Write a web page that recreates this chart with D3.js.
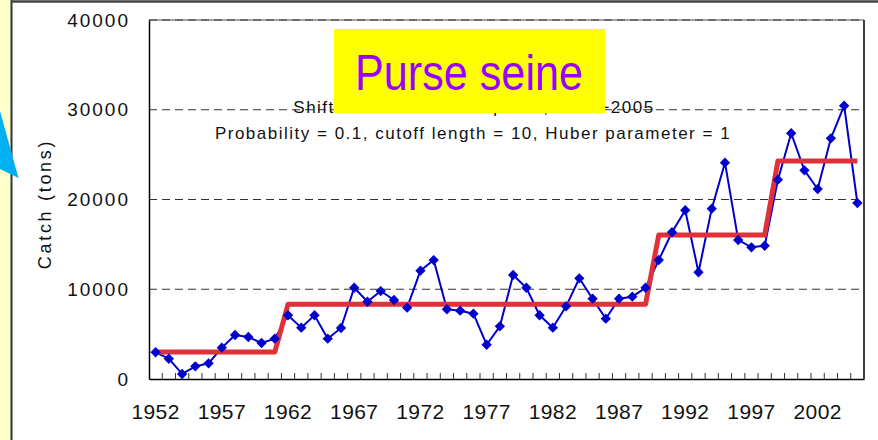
<!DOCTYPE html>
<html>
<head>
<meta charset="utf-8">
<script src="https://cdn.jsdelivr.net/npm/d3@7/dist/d3.min.js"></script>
<style>
  body { margin: 0; background: white; }
  text { font-family: "Liberation Sans", Arial, sans-serif; }
</style>
</head>
<body>
<div id="container"></div>
<script>
let w = 878;
let h = 440;

// DATA
let years = [1952, 1953, 1954, 1955, 1956, 1957, 1958, 1959, 1960, 1961,
  1962, 1963, 1964, 1965, 1966, 1967, 1968, 1969, 1970, 1971,
  1972, 1973, 1974, 1975, 1976, 1977, 1978, 1979, 1980, 1981,
  1982, 1983, 1984, 1985, 1986, 1987, 1988, 1989, 1990, 1991,
  1992, 1993, 1994, 1995, 1996, 1997, 1998, 1999, 2000, 2001,
  2002, 2003, 2004, 2005];
let catchTons = [2980, 2260, 560, 1410, 1750, 3490, 4900, 4680, 4010, 4490,
  7100, 5720, 7100, 4490, 5680, 10170, 8610, 9800, 8800, 7950,
  12070, 13250, 7770, 7610, 7280, 3820, 5870, 11590, 10170, 7100,
  5720, 8100, 11220, 8950, 6720, 8950, 9170, 10170, 13260, 16350,
  18800, 11890, 18980, 24100, 15490, 14670, 14850, 22210, 27380, 23250,
  21170, 26820, 30450, 19610];
// regimes of the mean (start year, end year, mean)
let regimeStart = [1952, 1962, 1990, 1999];
let regimeEnd = [1961, 1989, 1998, 2005];
let regimeMean = [3000, 8320, 16040, 24290];

let yTicks = [0, 10000, 20000, 30000, 40000];
let xLabels = [1952, 1957, 1962, 1967, 1972, 1977, 1982, 1987, 1992, 1997, 2002];

// SVG
let viz = d3.select("#container").append("svg")
    .attr("width", w)
    .attr("height", h)
    .style("display", "block")
    .style("background-color", "white");

// left yellow strip + frame
viz.append("rect").attr("x", 0).attr("y", 0).attr("width", 11).attr("height", h).attr("fill", "#ffffcc");
viz.append("line").attr("x1", 11.5).attr("x2", 11.5).attr("y1", 0).attr("y2", h)
    .attr("stroke", "#333").attr("stroke-width", 2);
viz.append("line").attr("x1", 11).attr("x2", w).attr("y1", 1.5).attr("y2", 1.5)
    .attr("stroke", "#444").attr("stroke-width", 2.5);

// SCALES
let plotLeft = 149, plotRight = 864, plotTop = 20, plotBottom = 379;
let xScale = d3.scaleBand().domain(years).range([plotLeft, plotRight]);
let yScale = d3.scaleLinear().domain([0, 40000]).range([plotBottom, plotTop]);
let cx = (yr) => xScale(yr) + xScale.bandwidth() / 2;

// plot border (top light) and right
viz.append("line").attr("x1", plotLeft).attr("x2", plotRight).attr("y1", plotTop).attr("y2", plotTop)
    .attr("stroke", "#888").attr("stroke-width", 1.5);
viz.append("line").attr("x1", plotRight).attr("x2", plotRight).attr("y1", plotTop).attr("y2", plotBottom)
    .attr("stroke", "black").attr("stroke-width", 1.5);

// GRIDLINES
viz.selectAll(".grid").data(yTicks.filter(d => d > 0)).enter()
  .append("line")
    .attr("class", "grid")
    .attr("x1", plotLeft).attr("x2", plotRight)
    .attr("y1", d => yScale(d)).attr("y2", d => yScale(d))
    .attr("stroke", "#333")
    .attr("stroke-width", 1.2)
    .attr("stroke-dasharray", "8,5");

// AXES
let yAxis = d3.axisLeft(yScale).tickValues(yTicks).tickFormat(d3.format("d"))
    .tickSize(0).tickPadding(21);
let yG = viz.append("g").attr("transform", `translate(${plotLeft},0)`).call(yAxis);
yG.select(".domain").attr("stroke", "black").attr("stroke-width", 1.5);
yG.selectAll("text").attr("font-size", 19).attr("fill", "#111")
    .attr("letter-spacing", 2)
    .attr("dx", 2)
    .style("font-family", "'Liberation Sans', Arial, sans-serif");

let xAxis = d3.axisBottom(xScale).tickValues(xLabels).tickSize(0).tickPadding(25);
let xG = viz.append("g").attr("transform", `translate(0,${plotBottom})`).call(xAxis);
xG.select(".domain").attr("stroke", "black").attr("stroke-width", 1.5);
xG.selectAll("text").attr("font-size", 21).attr("fill", "#111")
    .attr("letter-spacing", 0.4)
    .style("font-family", "'Liberation Sans', Arial, sans-serif");

// category boundary ticks (inside)
viz.selectAll(".xtick").data(years.slice(1)).enter()
  .append("line")
    .attr("class", "xtick")
    .attr("x1", d => xScale(d)).attr("x2", d => xScale(d))
    .attr("y1", plotBottom).attr("y2", plotBottom - 6)
    .attr("stroke", "#333").attr("stroke-width", 1);

// y axis title
viz.append("text")
    .attr("transform", "translate(51,204) rotate(-90)")
    .attr("text-anchor", "middle")
    .attr("font-size", 18)
    .attr("letter-spacing", 2.7)
    .attr("fill", "#111")
    .text("Catch (tons)");

// subtitle lines
viz.append("text")
    .attr("x", 474).attr("y", 113)
    .attr("text-anchor", "middle")
    .attr("font-size", 17)
    .attr("letter-spacing", 1.5)
    .attr("fill", "#111")
    .text("Shifts in the mean for purse, 1952\u22122005");
viz.append("text")
    .attr("x", 473).attr("y", 139)
    .attr("text-anchor", "middle")
    .attr("font-size", 17)
    .attr("letter-spacing", 1.5)
    .attr("fill", "#111")
    .text("Probability = 0.1, cutoff length = 10, Huber parameter = 1");

// CATCH LINE
let lineMaker = d3.line()
    .x((d, i) => cx(years[i]))
    .y(d => yScale(d));
viz.append("path")
    .datum(catchTons)
    .attr("d", lineMaker)
    .attr("fill", "none")
    .attr("stroke", "#0000cc")
    .attr("stroke-width", 2);

// REGIME STEP LINE
let stepPoints = [];
regimeMean.forEach((m, i) => {
  stepPoints.push([cx(regimeStart[i]), yScale(m)]);
  stepPoints.push([cx(regimeEnd[i]), yScale(m)]);
});
viz.append("path")
    .datum(stepPoints)
    .attr("d", d3.line())
    .attr("fill", "none")
    .attr("stroke", "#e0303a")
    .attr("stroke-width", 5)
    .attr("stroke-linejoin", "round");

// MARKERS
let diamond = d3.symbol().type(d3.symbolDiamond2).size(68);
viz.selectAll(".pt").data(catchTons).enter()
  .append("path")
    .attr("class", "pt")
    .attr("d", diamond)
    .attr("transform", (d, i) => `translate(${cx(years[i])},${yScale(d)})`)
    .attr("fill", "#0000cc");

// TITLE BOX
viz.append("rect")
    .attr("x", 334).attr("y", 29)
    .attr("width", 271).attr("height", 84)
    .attr("fill", "#ffff00");
viz.append("text")
    .attr("x", 355).attr("y", 90)
    .attr("font-size", 50)
    .attr("textLength", 228)
    .attr("lengthAdjust", "spacingAndGlyphs")
    .attr("fill", "#9900ff")
    .text("Purse seine");

// blue callout arrow
viz.append("path")
    .attr("d", "M0,111 L18.5,178 L0,169 Z")
    .attr("fill", "#00b0f0");
</script>
</body>
</html>
